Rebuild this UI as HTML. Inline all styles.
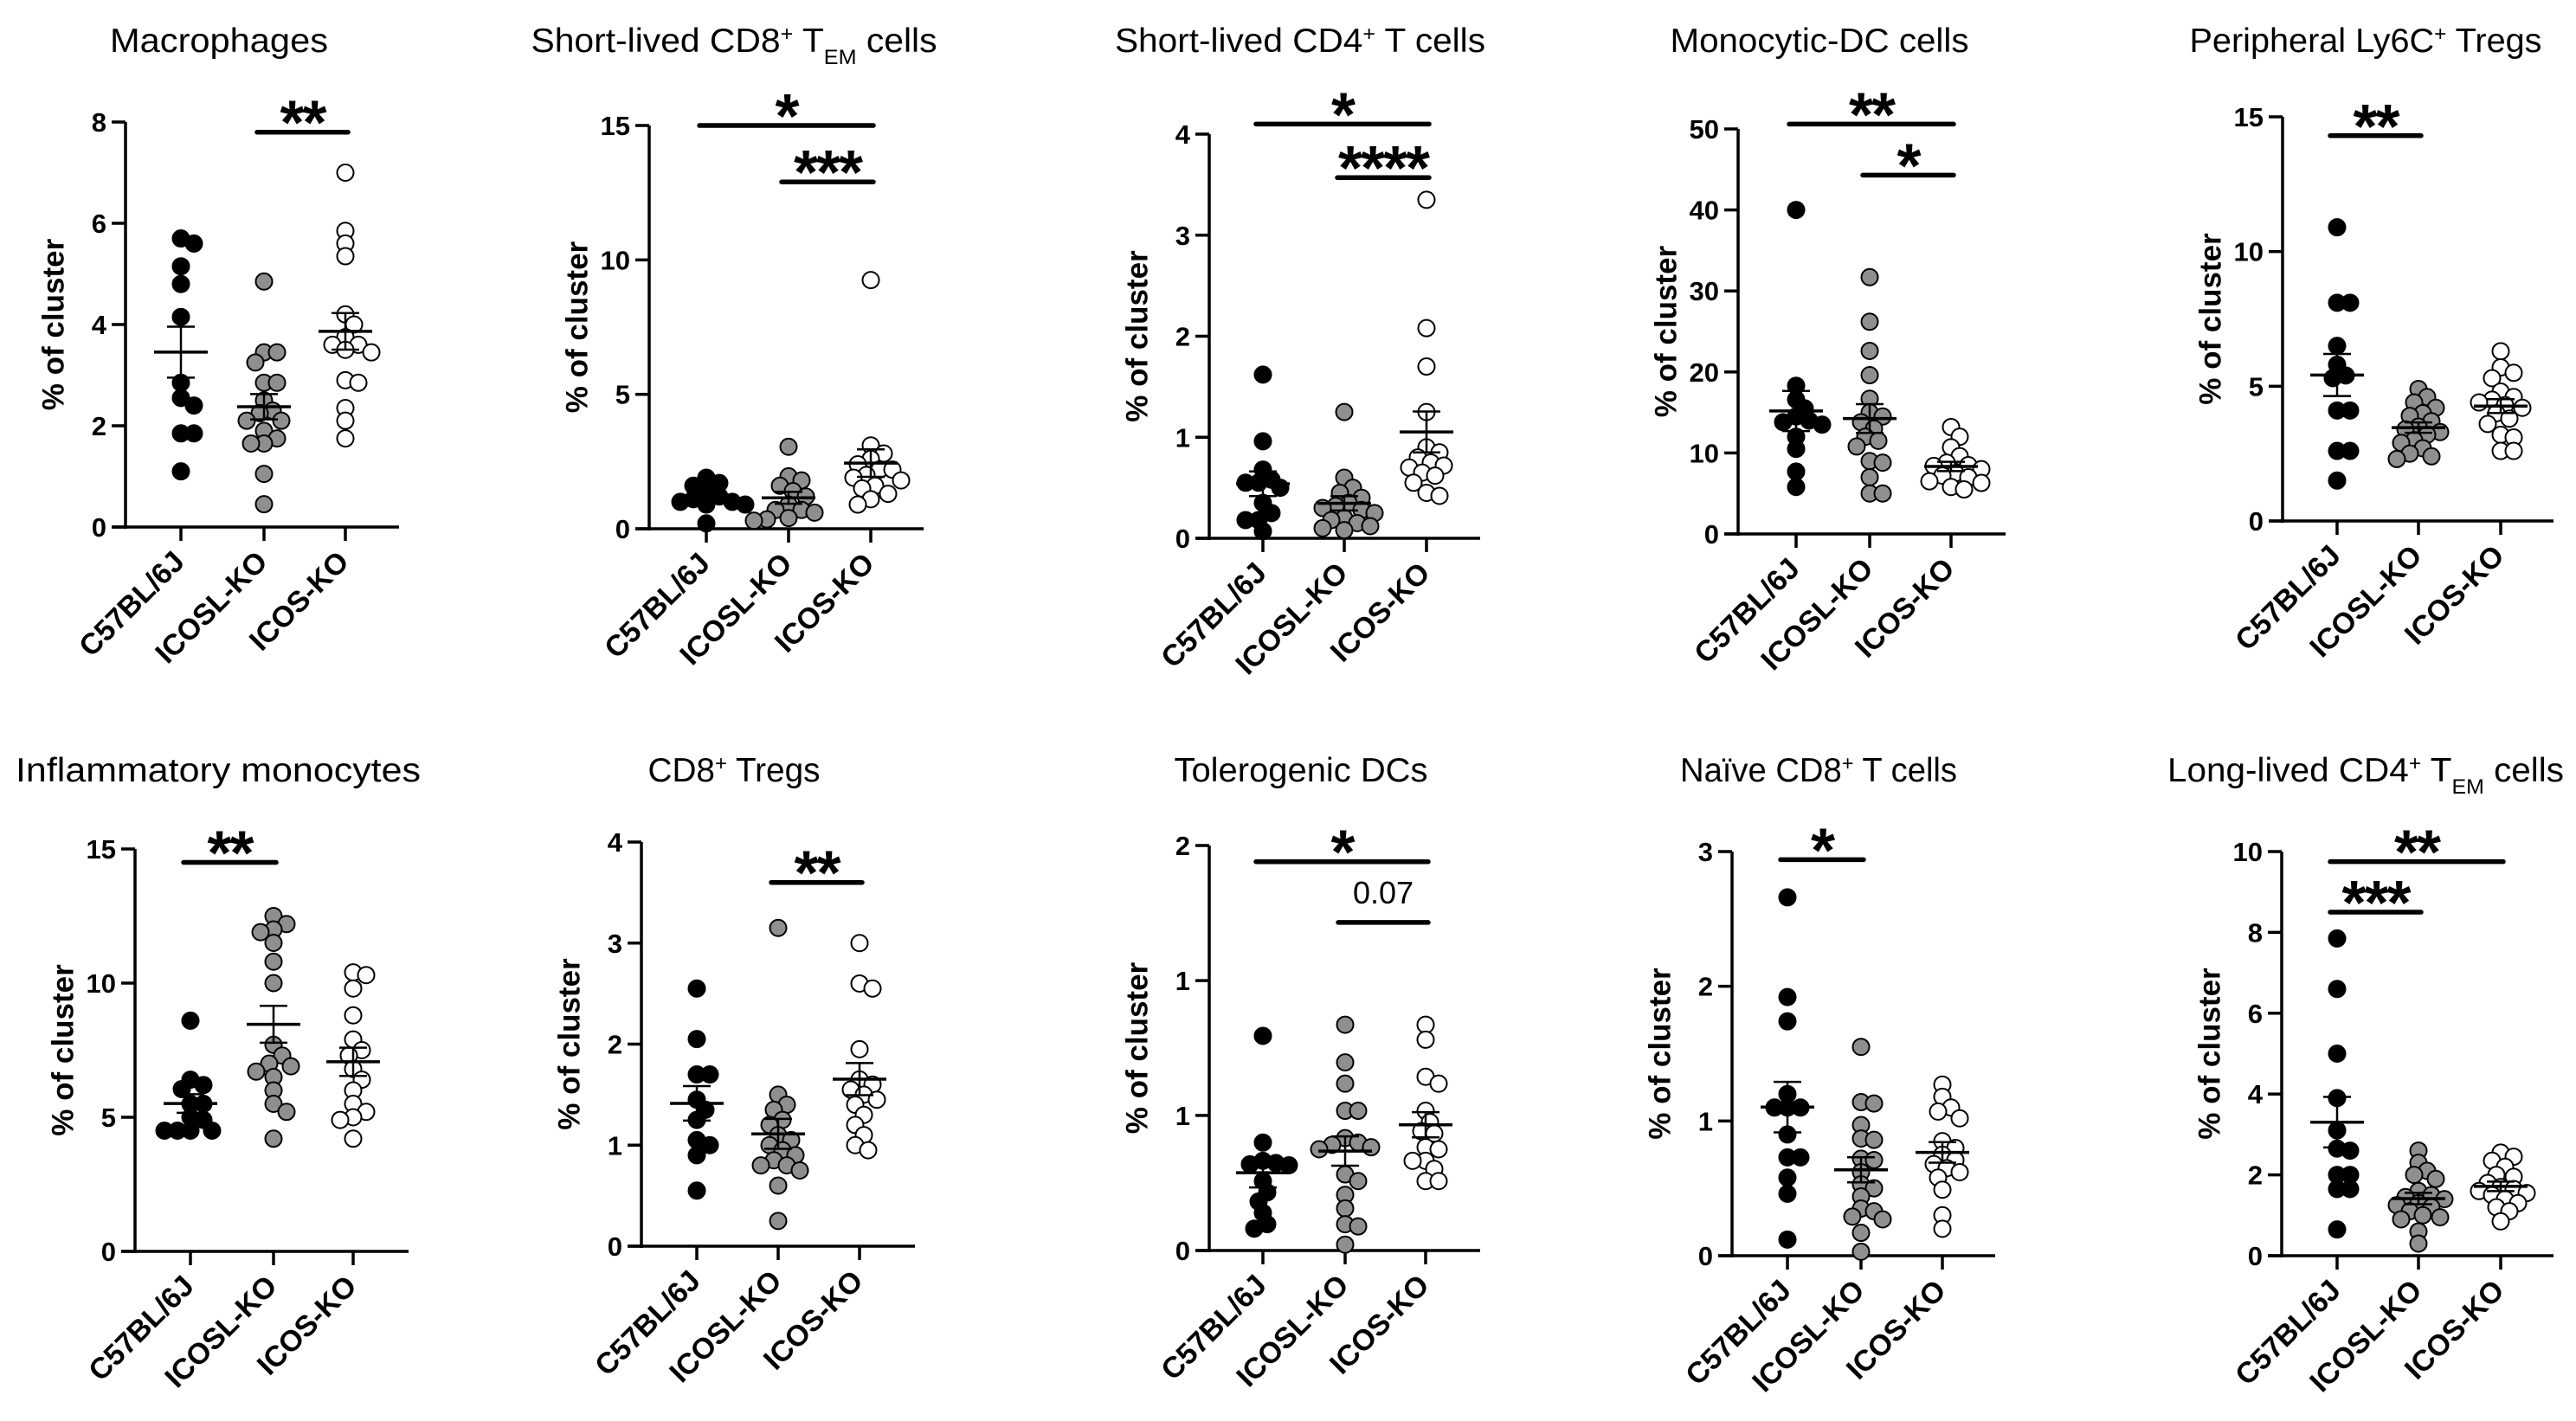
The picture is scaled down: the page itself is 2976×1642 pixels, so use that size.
<!DOCTYPE html>
<html><head><meta charset="utf-8">
<style>
html,body{margin:0;padding:0;background:#fff;}
svg{display:block;}
</style></head>
<body>
<svg id="fig" width="2976" height="1642" viewBox="0 0 2976 1642" xmlns="http://www.w3.org/2000/svg"></svg>
<script>
// ---------- shared data ----------
const groups = ["C57BL/6J","ICOSL-KO","ICOS-KO"];

// Macrophages
const macTicks = [0,2,4,6,8];
const macC57 = [5.7,5.6,5.15,4.8,4.15,2.85,2.55,2.4,1.85,1.85,1.1];
const macICOSL = [4.85,3.45,3.45,3.25,2.85,2.85,2.5,2.3,2.25,2.1,2.1,1.9,1.75,1.65,1.65,1.05,0.45];
const macICOS = [7.0,5.85,5.6,5.35,4.2,4.0,3.75,3.6,3.6,3.5,3.45,2.9,2.85,2.35,2.1,1.75];

// Short-lived CD8 TEM
const s8Ticks = [0,5,10,15];
const s8C57 = [1.9,1.7,1.6,1.4,1.2,1.1,1.0,1.0,0.9,0.9,0.2];
const s8ICOSL = [3.05,1.95,1.8,1.6,1.4,1.2,0.9,0.7,0.7,0.6,0.4,0.35,0.3];
const s8ICOS = [9.25,3.1,2.8,2.6,2.4,2.2,2.2,2.0,1.9,1.8,1.6,1.5,1.3,1.1,0.9];

// Short-lived CD4 T
const s4Ticks = [0,1,2,3,4];
const s4C57 = [1.62,0.96,0.68,0.58,0.55,0.55,0.5,0.35,0.25,0.18,0.18,0.07];
const s4ICOSL = [1.25,0.6,0.5,0.45,0.4,0.35,0.32,0.3,0.28,0.25,0.2,0.18,0.15,0.12,0.1,0.08];
const s4ICOS = [3.35,2.08,1.7,1.25,0.9,0.85,0.8,0.75,0.72,0.7,0.65,0.62,0.55,0.45,0.42];

// Monocytic-DC
const mdcTicks = [0,10,20,30,40,50];
const mdcC57 = [40,18.3,16.6,15.5,14.5,14,13.8,13.5,12,10.5,7.7,5.8];
const mdcICOSL = [31.7,26.2,22.6,19.6,16.7,15,14.5,13.8,13,12,11.5,10.8,9,8.8,7,5,5];
const mdcICOS = [13.2,12,10.7,9.6,8.8,8.5,8.4,8,7.5,7.2,7,6.5,6.3,5.8,5.5];

// Peripheral Ly6C Tregs
const lyTicks = [0,5,10,15];
const lyC57 = [10.9,8.1,8.1,6.5,5.8,5.4,5.3,4.1,4.1,2.6,2.6,1.5];
const lyICOSL = [4.9,4.6,4.4,4.2,4.0,3.9,3.7,3.5,3.4,3.3,3.2,3.0,2.9,2.7,2.5,2.4,2.3];
const lyICOS = [6.3,5.7,5.5,5.3,4.8,4.6,4.5,4.4,4.3,4.2,4.0,3.8,3.6,3.2,3.1,2.6,2.6];

// Inflammatory monocytes
const imTicks = [0,5,10,15];
const imC57 = [8.6,6.4,6.2,6.05,5.5,5.5,5.0,4.9,4.5,4.5,4.5,4.5];
const imICOSL = [12.5,12.2,12.0,11.9,11.5,10.8,10.0,7.7,7.3,7.0,6.9,6.7,6.5,6.0,5.5,5.2,4.2];
const imICOS = [10.4,10.3,9.8,8.8,7.9,7.5,7.3,6.8,6.4,6.0,5.5,5.2,5.0,4.9,4.2];

// CD8 Tregs
const c8Ticks = [0,1,2,3,4];
const c8C57 = [2.55,2.05,1.7,1.7,1.45,1.35,1.25,1.05,1.0,0.9,0.55];
const c8ICOSL = [3.15,1.5,1.4,1.35,1.25,1.2,1.1,1.05,1.0,0.95,0.9,0.85,0.8,0.8,0.75,0.6,0.25];
const c8ICOS = [3.0,2.6,2.55,1.95,1.65,1.6,1.55,1.5,1.45,1.4,1.3,1.2,1.1,1.0,0.95];

// Tolerogenic DCs
const tdTicks = [0,0.667,1.333,2];
const tdTickLabels = ["0","1","1","2"];
const tdC57 = [1.06,0.533,0.443,0.432,0.426,0.421,0.343,0.287,0.242,0.186,0.13,0.108];
const tdICOSL = [1.115,0.929,0.824,0.69,0.69,0.555,0.533,0.522,0.51,0.5,0.376,0.343,0.275,0.208,0.13,0.119,0.029];
const tdICOS = [1.115,1.041,0.858,0.824,0.69,0.634,0.589,0.578,0.51,0.5,0.443,0.443,0.403,0.343,0.343];

// Naive CD8 T
const nvTicks = [0,1,2,3];
const nvC57 = [2.66,1.92,1.74,1.2,1.1,1.1,1.1,0.9,0.73,0.73,0.58,0.46,0.12];
const nvICOSL = [1.55,1.14,1.13,0.97,0.87,0.86,0.72,0.71,0.62,0.53,0.5,0.44,0.35,0.33,0.29,0.27,0.17,0.03];
const nvICOS = [1.27,1.18,1.1,1.07,1.02,0.85,0.8,0.75,0.71,0.68,0.65,0.62,0.58,0.49,0.3,0.2];

// Long-lived CD4 TEM
const llTicks = [0,2,4,6,8,10];
const llC57 = [7.85,6.6,5.0,3.9,3.1,2.65,2.6,2.0,2.0,1.65,1.65,0.65];
const llICOSL = [2.6,2.3,2.1,2.0,1.9,1.6,1.5,1.45,1.4,1.3,1.25,1.2,1.1,1.0,0.95,0.9,0.6,0.3];
const llICOS = [2.55,2.45,2.35,2.2,2.0,1.95,1.8,1.7,1.65,1.6,1.55,1.5,1.4,1.3,1.2,1.1,0.85];

// significance annotations: [fromGroup, toGroup, yValue, label]
const macSig = [[1,2,7.8,"**"]];
const s8Sig = [[0,2,15,"*"],[1,2,12.9,"***"]];
const s4Sig = [[0,2,4.1,"*"],[1,2,3.57,"****"]];
const mdcSig = [[0,2,50.6,"**"],[1,2,44.3,"*"]];
const lySig = [[0,1,14.3,"**"]];
const imSig = [[0,1,14.5,"**"]];
const c8Sig = [[1,2,3.6,"**"]];
const tdSig = [[0,2,1.92,"*"],[1,2,1.62,"0.07"]];
const nvSig = [[0,1,2.94,"*"]];
const llSig = [[0,2,9.75,"**"],[0,1,8.5,"***"]];

// ---------- layout (pixels) ----------
const panels = [
 {id:"macrophages",title:["Macrophages"],tl:252,tx:253,ty:60,ax:145,ay0:609,ay1:141,max:8,ticks:macTicks,cats:[209,305,399],end:461,data:[macC57,macICOSL,macICOS],sig:macSig},
 {id:"short-lived-cd8-tem",title:["Short-lived CD8","+"," T","EM"," cells"],tl:469,tx:848,ty:60,ax:750,ay0:611,ay1:145,max:15,ticks:s8Ticks,cats:[816,911,1006],end:1067,data:[s8C57,s8ICOSL,s8ICOS],sig:s8Sig},
 {id:"short-lived-cd4-t",title:["Short-lived CD4","+"," T cells"],tl:428,tx:1502,ty:60,ax:1397,ay0:622,ay1:155,max:4,ticks:s4Ticks,cats:[1459,1553,1648],end:1710,data:[s4C57,s4ICOSL,s4ICOS],sig:s4Sig},
 {id:"monocytic-dc",title:["Monocytic-DC cells"],tl:345,tx:2102,ty:60,ax:2008,ay0:617,ay1:149,max:50,ticks:mdcTicks,cats:[2075,2160,2254],end:2317,data:[mdcC57,mdcICOSL,mdcICOS],sig:mdcSig},
 {id:"peripheral-ly6c-tregs",title:["Peripheral Ly6C","+"," Tregs"],tl:407,tx:2733,ty:60,ax:2637,ay0:602,ay1:135,max:15,ticks:lyTicks,cats:[2700,2794,2889],end:2950,data:[lyC57,lyICOSL,lyICOS],sig:lySig},
 {id:"inflammatory-monocytes",title:["Inflammatory monocytes"],tl:468,tx:252,ty:903,ax:156,ay0:1446,ay1:981,max:15,ticks:imTicks,cats:[220,316,408],end:472,data:[imC57,imICOSL,imICOS],sig:imSig},
 {id:"cd8-tregs",title:["CD8","+"," Tregs"],tl:199,tx:848,ty:903,ax:741,ay0:1440,ay1:973,max:4,ticks:c8Ticks,cats:[805,899,993],end:1057,data:[c8C57,c8ICOSL,c8ICOS],sig:c8Sig},
 {id:"tolerogenic-dcs",title:["Tolerogenic DCs"],tl:293,tx:1503,ty:903,ax:1397,ay0:1445,ay1:977,max:2,ticks:tdTicks,labels:tdTickLabels,cats:[1459,1554,1647],end:1710,data:[tdC57,tdICOSL,tdICOS],sig:tdSig},
 {id:"naive-cd8-t",title:["Naïve CD8","+"," T cells"],tl:320,tx:2101,ty:903,ax:2001,ay0:1451,ay1:984,max:3,ticks:nvTicks,cats:[2065,2150,2244],end:2305,data:[nvC57,nvICOSL,nvICOS],sig:nvSig},
 {id:"long-lived-cd4-tem",title:["Long-lived CD4","+"," T","EM"," cells"],tl:458,tx:2733,ty:903,ax:2636,ay0:1451,ay1:984,max:10,ticks:llTicks,cats:[2700,2794,2889],end:2950,data:[llC57,llICOSL,llICOS],sig:llSig}
];

const NS="http://www.w3.org/2000/svg";
const svg=document.getElementById('fig');
function mk(tag,attrs,parent){const e=document.createElementNS(NS,tag);for(const k in attrs)e.setAttribute(k,attrs[k]);(parent||svg).appendChild(e);return e;}

const fills=["#000000","#8f8f8f","#ffffff"];
const R=9.5;

panels.forEach(p=>{
  const g=mk('g',{});
  
  
  const y=v=>p.ay0-(v/p.max)*(p.ay0-p.ay1);

  // title
  const t=mk('text',{x:p.tx,y:p.ty,'text-anchor':'middle','font-family':'"Liberation Sans",sans-serif','font-size':39,fill:'#000',textLength:p.tl,lengthAdjust:'spacingAndGlyphs'},g);
  
  
  p.title.forEach((s,i)=>{
    const ts=mk('tspan',{},t);
    if(s==="+"){ts.setAttribute('baseline-shift','super');ts.setAttribute('font-size',24);}
    else if(s==="EM"){ts.setAttribute('baseline-shift','sub');ts.setAttribute('font-size',24);}
    ts.textContent=s;
  });

  // y axis
  const yax=mk('line',{x1:p.ax,y1:p.ay1,x2:p.ax,y2:p.ay0+2,stroke:'#000','stroke-width':3.5},g);
  
  
  p.ticks.forEach((v,i)=>{
    mk('line',{x1:p.ax-16,y1:y(v),x2:p.ax,y2:y(v),stroke:'#000','stroke-width':3.5},g);
    const tl=mk('text',{x:p.ax-22,y:y(v)+11,'text-anchor':'end','font-family':'"Liberation Sans",sans-serif','font-weight':'bold','font-size':31,fill:'#000'},g);
    
    
    tl.textContent=p.labels?p.labels[i]:String(v);
  });
  const cy=(p.ay0+p.ay1)/2;
  const yt=mk('text',{x:p.ax-81,y:cy,'text-anchor':'middle','font-family':'"Liberation Sans",sans-serif','font-weight':'bold','font-size':35,fill:'#000',transform:`rotate(-90 ${p.ax-81} ${cy})`,'dominant-baseline':'middle'},g);
  
  
  yt.textContent="% of cluster";

  // x axis
  const xax=mk('line',{x1:p.ax-16,y1:p.ay0,x2:p.end,y2:p.ay0,stroke:'#000','stroke-width':3.5},g);
  
  
  p.cats.forEach((cx,i)=>{
    mk('line',{x1:cx,y1:p.ay0,x2:cx,y2:p.ay0+16,stroke:'#000','stroke-width':3.5},g);
    const lx=cx+6, ly=p.ay0+42;
    const cl=mk('text',{x:lx,y:ly,'text-anchor':'end','font-family':'"Liberation Sans",sans-serif','font-weight':'bold','font-size':34,fill:'#000',transform:`rotate(-45 ${lx} ${ly})`},g);
    
    
    cl.textContent=groups[i];
  });

  // points (beeswarm) + mean/SEM
  p.data.forEach((arr,gi)=>{
    const cx=p.cats[gi];
    const placed=[];
    const sorted=arr.slice().sort((a,b)=>b-a);
    sorted.forEach(v=>{
      const py=y(v);
      let best=0;
      const cands=[0];
      for(let k=1;k<10;k++){cands.push(k*5,-k*5);}
      for(const off of cands){
        if(placed.every(q=>Math.hypot(q[0]-off,q[1]-py)>=2*R*0.72)){best=off;break;}
      }
      placed.push([best,py]);
      const c=mk('circle',{cx:cx+best,cy:py,r:R,fill:fills[gi],stroke:'#000','stroke-width':2},g);
      
      
    });
    const n=arr.length, m=arr.reduce((a,b)=>a+b,0)/n;
    const sd=Math.sqrt(arr.reduce((a,b)=>a+(b-m)*(b-m),0)/(n-1));
    const se=sd/Math.sqrt(n);
    const ml=mk('line',{x1:cx-31,y1:y(m),x2:cx+31,y2:y(m),stroke:'#000','stroke-width':3.5},g);
    
    
    mk('line',{x1:cx,y1:y(m+se),x2:cx,y2:y(m-se),stroke:'#000','stroke-width':2.5},g);
    mk('line',{x1:cx-16,y1:y(m+se),x2:cx+16,y2:y(m+se),stroke:'#000','stroke-width':2.5},g);
    mk('line',{x1:cx-16,y1:y(m-se),x2:cx+16,y2:y(m-se),stroke:'#000','stroke-width':2.5},g);
  });

  // significance bars
  p.sig.forEach(s=>{
    const x1=p.cats[s[0]]-8, x2=p.cats[s[1]]+3, by=y(s[2]);
    const b=mk('line',{x1:x1,y1:by,x2:x2,y2:by,stroke:'#000','stroke-width':5.5,'stroke-linecap':'round'},g);
    
    
    const isStar=s[3].indexOf('*')>=0;
    const st=mk('text',{x:(x1+x2)/2,y:isStar?by+14:by-22,'text-anchor':'middle','font-family':'"Liberation Sans",sans-serif','font-weight':isStar?'bold':'normal','font-size':isStar?72:36,fill:'#000','letter-spacing':isStar?-2:0},g);
    
    
    st.textContent=s[3];
  });
});
</script>
</body></html>
